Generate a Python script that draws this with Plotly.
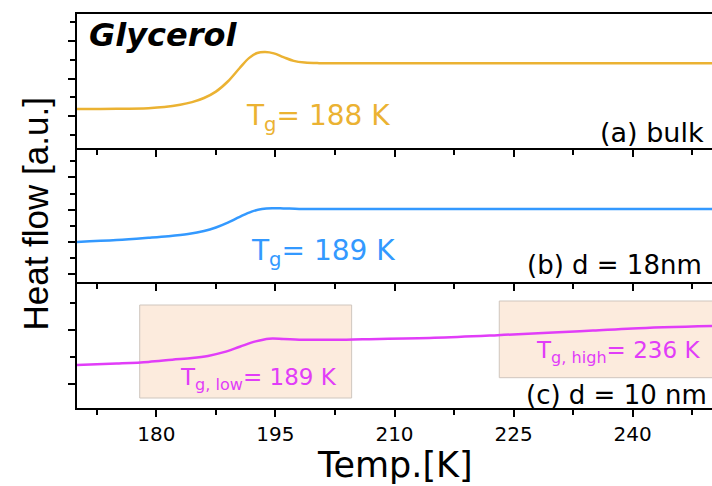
import plotly.graph_objects as go

# Temperature (K) and heat flow (a.u.) read for the three glycerol samples
temp_bulk = [170, 175, 179, 181, 183, 184.5, 186, 187.5, 189, 190.5, 191.7, 192.7, 193.7,
             194.8, 196, 197.3, 198.7, 200.5, 205, 215, 225, 235, 250]
flow_bulk = [0.187, 0.192, 0.21, 0.24, 0.30, 0.37, 0.48, 0.65, 0.92, 1.28, 1.55, 1.68, 1.705,
             1.67, 1.57, 1.47, 1.425, 1.41, 1.41, 1.41, 1.41, 1.41, 1.41]

temp_18nm = [170, 175, 179, 181.5, 184, 186, 187.5, 189, 190.5, 192, 193.3, 194.6, 196,
             198, 202, 210, 220, 230, 240, 250]
flow_18nm = [0.0, 0.06, 0.13, 0.18, 0.25, 0.34, 0.45, 0.60, 0.78, 0.94, 1.02, 1.045, 1.04,
             1.025, 1.022, 1.022, 1.022, 1.022, 1.022, 1.022]

temp_10nm = [170, 175, 179, 182, 184.5, 186.5, 188.5, 190.5, 192.5, 194.2, 196, 198, 202,
             206, 215, 223, 230, 235, 240, 250]
flow_10nm = [0.352, 0.38, 0.41, 0.45, 0.48, 0.52, 0.59, 0.69, 0.79, 0.84, 0.835, 0.822, 0.82,
             0.83, 0.857, 0.905, 0.955, 0.99, 1.03, 1.074]

# Glass-transition windows for the 10 nm film: (T start, T end, flow low, flow high)
window_low = (177.9, 204.6, -0.259, 1.463)
window_high = (223.2, 252.0, 0.117, 1.537)

x_ticks = [180, 195, 210, 225, 240]
x_range = [170, 250]

C_BULK = "#EBB232"
C_18 = "#3399FF"
C_10 = "#E13DF8"
FONT = "DejaVu Sans"

fig = go.Figure()
fig.add_trace(go.Scatter(x=temp_bulk, y=flow_bulk, mode="lines", xaxis="x", yaxis="y",
                         line=dict(color=C_BULK, width=2.5, shape="spline", smoothing=1.0)))
fig.add_trace(go.Scatter(x=temp_18nm, y=flow_18nm, mode="lines", xaxis="x2", yaxis="y2",
                         line=dict(color=C_18, width=2.5, shape="spline", smoothing=1.0)))
fig.add_trace(go.Scatter(x=temp_10nm, y=flow_10nm, mode="lines", xaxis="x3", yaxis="y3",
                         line=dict(color=C_10, width=2.5, shape="spline", smoothing=1.0)))

for win in (window_low, window_high):
    fig.add_shape(type="rect", xref="x3", yref="y3", x0=win[0], x1=win[1], y0=win[2], y1=win[3],
                  fillcolor="#FCEBDD", line=dict(color="#CFC6BE", width=1), layer="below")


def xaxis(anchor, labels, mirror, match=None):
    ax = dict(anchor=anchor, range=x_range, tickvals=x_ticks, showticklabels=labels,
              ticks="outside", ticklen=7, tickwidth=2, tickcolor="black",
              minor=dict(dtick=7.5, tick0=172.5, ticks="outside", ticklen=5, tickwidth=2,
                         tickcolor="black"),
              showline=True, linewidth=2, linecolor="black", mirror=mirror,
              showgrid=False, zeroline=False,
              tickfont=dict(family=FONT, size=20, color="black"))
    if match:
        ax["matches"] = match
    return ax


def yaxis(anchor, domain, rng):
    return dict(anchor=anchor, domain=domain, range=rng, dtick=1, tick0=0,
                showticklabels=False, ticks="outside", ticklen=7, tickwidth=2,
                tickcolor="black",
                minor=dict(dtick=0.5, ticks="outside", ticklen=5, tickwidth=2, tickcolor="black"),
                showline=True, linewidth=2, linecolor="black", mirror=False,
                showgrid=False, zeroline=False)


fig.update_layout(
    width=712, height=486,
    margin=dict(l=77, r=0, t=14, b=78),
    paper_bgcolor="white", plot_bgcolor="white",
    showlegend=False,
    xaxis=xaxis("y", False, True, "x3"),
    xaxis2=xaxis("y2", False, False, "x3"),
    xaxis3=xaxis("y3", True, False),
    yaxis=yaxis("x", [0.6599, 1.0], [-0.853, 2.72]),
    yaxis2=yaxis("x2", [0.3198, 0.6599], [-1.238, 2.91]),
    yaxis3=yaxis("x3", [0.0, 0.3198], [-0.444, 1.889]),
)

ann = [
    dict(text="<b><i>Glycerol</i></b>", xref="x", yref="y", x=171.3, y=2.17,
         xanchor="left", yanchor="middle", font=dict(family=FONT, size=32, color="black")),
    dict(text="T<sub>g</sub>= 188 K", xref="x", yref="y", x=191.0, y=-0.05,
         xanchor="left", yanchor="middle", font=dict(family=FONT, size=28, color=C_BULK)),
    dict(text="(a) bulk", xref="x", yref="y", x=249.3, y=-0.43,
         xanchor="right", yanchor="middle", font=dict(family=FONT, size=27, color="black")),
    dict(text="T<sub>g</sub>= 189 K", xref="x2", yref="y2", x=191.7, y=-0.31,
         xanchor="left", yanchor="middle", font=dict(family=FONT, size=28, color=C_18)),
    dict(text="(b) d = 18nm", xref="x2", yref="y2", x=249.0, y=-0.71,
         xanchor="right", yanchor="middle", font=dict(family=FONT, size=26, color="black")),
    dict(text="T<sub>g, low</sub>= 189 K", xref="x3", yref="y3", x=182.7, y=0.09,
         xanchor="left", yanchor="middle", font=dict(family=FONT, size=23, color=C_10)),
    dict(text="T<sub>g, high</sub>= 236 K", xref="x3", yref="y3", x=227.6, y=0.60,
         xanchor="left", yanchor="middle", font=dict(family=FONT, size=23, color=C_10)),
    dict(text="(c) d = 10 nm", xref="x3", yref="y3", x=249.6, y=-0.20,
         xanchor="right", yanchor="middle", font=dict(family=FONT, size=26, color="black")),
    dict(text="Heat flow [a.u.]", xref="paper", yref="paper", x=-0.0661, y=0.4911,
         textangle=-90, xanchor="center", yanchor="middle",
         font=dict(family="Liberation Sans", size=35, color="black")),
    dict(text="Temp.[K]", xref="paper", yref="paper", x=0.5, y=-0.1447,
         xanchor="center", yanchor="middle",
         font=dict(family=FONT, size=35, color="black")),
]
for a in ann:
    a["showarrow"] = False
fig.update_layout(annotations=ann)

fig.write_html("out.html")
